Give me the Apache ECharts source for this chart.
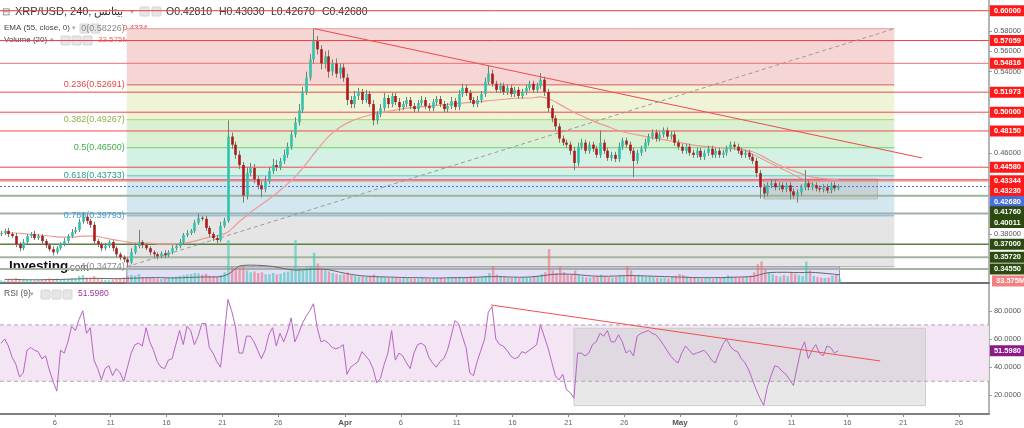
<!DOCTYPE html>
<html><head><meta charset="utf-8">
<script src="https://cdn.jsdelivr.net/npm/echarts@6/dist/echarts.min.js"></script>
<style>html,body{margin:0;padding:0;background:#fff}#c{width:1024px;height:428px}</style>
</head><body><div id="c"></div>
<script>
// ===================== DATA =====================
// 8-hour candles starting 1 Mar (time axis unit = days since 1 Mar)
const firstOpen = 0.380;
const closes = [
0.381,0.383,0.380, 0.378,0.370,0.366, 0.372,0.378,0.380, 0.376,0.378,0.373, 0.369,0.365,0.362,
0.366,0.370,0.373, 0.378,0.382,0.384, 0.392,0.397,0.393, 0.389,0.373,0.370, 0.366,0.368,0.372,
0.366,0.360,0.357, 0.355,0.352,0.362, 0.368,0.372,0.369, 0.366,0.362,0.360, 0.358,0.361,0.359,
0.362,0.366,0.368, 0.372,0.379,0.381, 0.383,0.391,0.396, 0.395,0.386,0.380, 0.376,0.374,0.388,
0.393,0.476,0.468, 0.458,0.448,0.418, 0.440,0.445,0.434, 0.428,0.424,0.432, 0.442,0.448,0.446,
0.452,0.458,0.466, 0.478,0.490,0.502, 0.520,0.534,0.552, 0.570,0.562,0.548, 0.555,0.540,0.548,
0.538,0.544,0.534, 0.512,0.508,0.516, 0.520,0.512,0.518, 0.508,0.492,0.498, 0.504,0.514,0.508,
0.516,0.510,0.505, 0.508,0.512,0.506, 0.503,0.509,0.512, 0.506,0.504,0.510, 0.513,0.508,0.503,
0.506,0.511,0.505, 0.518,0.524,0.519, 0.512,0.508,0.512, 0.518,0.530,0.538, 0.528,0.522,0.526,
0.520,0.524,0.518, 0.522,0.516,0.520, 0.524,0.528,0.522, 0.526,0.532,0.520, 0.504,0.494,0.486,
0.474,0.470,0.468, 0.462,0.450,0.466, 0.470,0.462,0.468, 0.464,0.458,0.470, 0.462,0.455,0.458,
0.454,0.466,0.472, 0.468,0.462,0.452, 0.460,0.464,0.470, 0.476,0.480,0.474, 0.478,0.482,0.476,
0.478,0.470,0.466, 0.462,0.466,0.460, 0.458,0.462,0.456, 0.460,0.464,0.458, 0.462,0.458,0.460,
0.464,0.468,0.466, 0.462,0.458,0.460, 0.456,0.452,0.440, 0.426,0.420,0.428, 0.430,0.426,0.428,
0.424,0.428,0.422, 0.418,0.421,0.426, 0.430,0.426,0.428, 0.425,0.424,0.426, 0.423,0.428,0.425,
0.4268];
// upper / lower wick lengths beyond the body, in thousandths of a dollar
const wickUp = [
2,2,3, 2,3,2, 3,2,2, 3,2,2, 2,2,3, 2,2,3, 2,3,3, 3,4,2, 2,3,2, 2,3,2,
2,2,2, 2,2,4, 3,12,2, 2,2,2, 2,2,3, 2,3,2, 3,2,3, 2,3,4, 2,3,2, 2,3,4,
3,16,4, 3,4,3, 6,5,4, 3,4,5, 4,6,5, 3,5,4, 4,5,6, 5,6,5, 12.3,5,4, 5,6,4,
5,4,4, 4,4,5, 4,3,4, 3,4,3, 4,5,3, 3,3,4, 3,3,3, 3,3,4, 3,3,3, 3,3,3,
3,4,3, 4,4,3, 3,3,4, 3,4,7.5, 4,3,3, 3,3,3, 3,3,3, 3,3,3, 3,6.6,3, 3,3,3,
3,3,3, 3,4,4, 4,3,3, 3,3,12, 3,3,3, 3,4,3, 3,3,3, 3,3,4, 3,3,3, 3,3,3,
3,3,3, 3,3,3, 3,3,3, 3,3,3, 3,3,3, 3,3,3, 3,3,3, 3,3,3, 3,3,3, 4,3,3,
3,3,3, 3,3,3, 13,3,3, 3,3,3, 3,3,3, 2];
const wickDn = [
2,2,3, 2,3,3, 2,2,2, 2,2,3, 3,2,3, 2,2,2, 2,2,2, 2,2,3, 3,3,3, 3,2,2,
3,3,3, 3,4.3,2, 2,2,3, 2,3,3, 3,2,3, 2,2,2, 2,2,2, 2,2,2, 2,3,3, 3,3,2,
2,2,4, 4,4,7, 4,3,4, 4,8,3, 3,3,4, 3,3,3, 3,3,3, 3,3,3, 4,5,6, 5,6,4,
4,5,4, 5,4,4, 4,4,3, 3,5,4, 3,3,4, 3,3,4, 3,3,3, 3,3,3, 3,3,3, 3,3,3,
3,3,3, 3,3,3, 3,3,3, 3,3,3, 3,3,3, 3,3,3, 3,3,3, 3,3,3, 3,3,4, 4,4,4,
4,3,3, 4,7,3, 3,3,3, 3,3,3, 3,3,3, 3,3,3, 3,3,16, 3,3,3, 3,3,3, 3,3,3,
3,3,3, 3,3,3, 3,3,3, 3,3,3, 3,3,3, 3,3,3, 3,3,3, 3,3,4, 11,4,3, 3,3,3,
3,3,8, 3,7,3, 3,3,3, 3,3,3, 3,3,3, 2];
// volume per candle (millions)
const volumes = [
15,12,18, 20,28,22, 18,16,14, 14,16,18, 22,26,20, 24,18,20, 22,26,24, 40,44,30, 30,38,26, 20,18,16,
20,24,26, 30,40,45, 42,50,34, 30,28,26, 24,22,26, 30,34,36, 40,44,48, 50,56,54, 46,52,40, 38,36,44,
60,240,90, 80,86,90, 70,60,64, 56,60,48, 50,56,48, 52,60,64, 70,240,80, 70,88,96, 170,110,80, 70,64,56,
50,46,48, 60,44,40, 36,38,34, 40,48,36, 34,30,28, 30,28,26, 26,28,24, 24,26,28, 24,22,26, 26,28,24,
28,32,30, 34,30,28, 36,38,32, 34,40,56, 95,48,40, 34,30,28, 30,26,28, 30,32,36, 40,50,60, 190,70,56,
90,60,50, 48,70,44, 36,32,30, 34,40,46, 36,32,30, 34,40,38, 95,70,40, 46,40,36, 38,34,30, 28,30,26,
34,40,50, 44,36,30, 28,26,24, 26,28,24, 26,30,28, 44,36,30, 30,32,34, 40,60,105, 120,80,60, 50,40,36,
44,38,60, 50,44,40, 120,70,40, 34,30,28, 30,40,46, 25];
// RSI(9) per candle
const rsiVals = [
57,60,55, 47,42,33, 36,52,54, 52,51,46, 48,38,30, 23,52,50, 58,69,66, 74,80,64, 68,45,39, 31,39,41,
34,39,36, 30,40,50, 56,57,55, 68,58,52, 44,40,39, 45,46,56, 66,56,69, 66,56,62, 71,71,54, 50,44,40,
62,88,80, 69,50,50, 62,62,58, 52,46,52, 63,68,55, 64,58,65, 75,58,64, 71,76,80, 85,68,58, 59,57,54,
53,54,56, 35,40,42, 44,51,48, 45,39,29, 32,42,50, 66,45,50, 48,43,39, 50,56,57, 55,47,43, 40,44,46,
52,62,73, 71,62,54, 36,34,44, 52,60,79, 83,60,56, 55,52,48, 46,47,51, 50,52,54, 56,70,62, 54,44,34,
31,35,24, 22,18,50, 50,48,50, 56,58,64, 62,66,58, 58,63,58, 50,52,48, 62,64,65, 66,64,63, 60,56,52,
48,45,43, 50,55,52, 49,50,51, 52,49,45, 43,50,56, 60,55,52, 51,46,43, 38,31,24, 18,13,26, 34,41,40,
37,35,31, 27,40,52, 58,46,52, 56,50,48, 55,54,50, 51.598];
// EMA(55) per day (value at mid-day)
const emaVals = [
0.381,0.381,0.380,0.379,0.378,0.377,0.377,0.378,0.378,0.376,0.374,0.372,0.371,0.371,0.370,0.370,
0.371,0.373,0.376,0.378,0.382,0.392,0.401,0.409,0.417,0.426,0.436,0.449,0.463,0.476,0.485,0.491,
0.495,0.498,0.500,0.502,0.504,0.505,0.506,0.507,0.508,0.509,0.510,0.511,0.512,0.513,0.514,0.514,
0.515,0.512,0.506,0.500,0.495,0.490,0.486,0.482,0.479,0.477,0.475,0.473,0.471,0.469,0.467,0.466,
0.465,0.464,0.463,0.461,0.456,0.450,0.445,0.441,0.437,0.435,0.434,0.4334];
// Volume MA(20) per day (millions)
const volMa = [
20,20,18,18,19,20,22,24,26,25,24,26,28,30,30,28,30,32,34,34,
50,95,100,98,92,80,72,75,78,74,60,48,40,36,34,32,30,30,28,28,
30,30,32,35,36,34,32,34,40,48,50,48,42,38,38,40,42,40,38,36,
34,32,30,30,30,32,34,38,55,60,60,58,60,56,50,46];
// Fibonacci retracement
const fibRatios = [0, 0.236, 0.382, 0.5, 0.618, 0.786, 1];
const fibPrices = [0.58226, 0.52691, 0.49267, 0.46500, 0.43733, 0.39793, 0.34774];
const fibSpan = [11.44, 80.2];           // days
// horizontal price lines
const hLines = [0.60000,0.57059,0.54816,0.51973,0.50000,0.48150,0.44580,0.43344,0.43230,0.42680,0.41760,0.40011,0.37000,0.35720,0.34550];
// trend lines [day1, v1, day2, v2]
const priceTrends = [[28.25,0.58226,82.7,0.4549],[66.2,0.4657,74.5,0.4204],[11.44,0.34774,80.2,0.58226]];
const rsiTrends = [[44.08,84.1,78.94,44.4]];
// rectangles [day1, day2, v1, v2]
const priceRects = [[68.5,78.7,0.4342,0.4145]];
const volumeZone = [[11.44,75.3,0.34774,0.33172]];
const rsiRects = [[51.5,83.0,67.5,12.7]];
const rsiBand = [30, 70];
const rsiLast = 51.598, volLast = 33.575;
// axes ticks
const priceTicks = [0.58,0.56,0.54,0.46,0.38];
const rsiTicks = [20,40,60,80];
const dateTickDays = [5,10,15,20,25,31,36,41,46,51,56,61,66,71,76,81,86];
const dateTickLabels = ['6','11','16','21','26','Apr','6','11','16','21','26','May','6','11','16','21','26'];

// ===================== STYLE =====================
const X_MIN = 0.08, X_MAX = 88.68;
const P_MIN = 0.33172, P_MAX = 0.61054;
const R_MIN = 6.8, R_MAX = 99.7;
const V_MAX = 464.8;
const FONT = 'Arial, "Liberation Sans", sans-serif';
const fibBandColors = ['#f6d5d5','#eff4d9','#d9f1d2','#d4f1e5','#d3e7f1','#e5e5e5'];
const fibLineColors = ['#e3a0a0','#e05a5a','#b8d06e','#6fcf6f','#62c8b2','#70b1dc','#a8a8a8'];
const fibTextColors = ['#888888','#e04848','#8db040','#43ad4a','#1f9f86','#3d9ad6','#888888'];
const hLineStyles = [
 {stroke:'#f23c3c',lineWidth:1},{stroke:'#f23c3c',lineWidth:1},{stroke:'#f07070',lineWidth:1},
 {stroke:'#f04848',lineWidth:1},{stroke:'#f04848',lineWidth:1},{stroke:'#f04848',lineWidth:1},
 {stroke:'#f04848',lineWidth:1},{stroke:'#f04848',lineWidth:1},{stroke:'#f06a6a',lineWidth:1},
 {stroke:'#4d6fdc',lineWidth:1,lineDash:[2,2]},
 {stroke:'#9db39a',lineWidth:2},{stroke:'#9fb0a8',lineWidth:2},{stroke:'#5e7d45',lineWidth:1.5},
 {stroke:'#a3b5a0',lineWidth:2},{stroke:'#a3b5a0',lineWidth:2}];
const hLabelBg = ['#ff1a1a','#ff1a1a','#ff1a1a','#ff1a1a','#ff1a1a','#ff1a1a','#ff1a1a','#ff1a1a','#ff1a1a',
 '#4a6fdc','#2a4a10','#2a4a10','#2a4a10','#2a4a10','#2a4a10'];
const hLabelShift = [0,0,0,0,0,0,0,1,10,15,16,9,0,0,0];
const priceTrendStyles = [{stroke:'#f04a4a',lineWidth:1},{stroke:'#f08a8a',lineWidth:1},{stroke:'#9a9a9a',lineWidth:1,lineDash:[4,3]}];

// ===================== BUILD =====================
const candleT = i => i/3 + 1/6;
const candleData = closes.map((c,i)=>{
  const o = i ? closes[i-1] : firstOpen;
  return [candleT(i), o, c, Math.min(o,c)-wickDn[i]/1000, Math.max(o,c)+wickUp[i]/1000];
});
const lastT = candleT(closes.length-1);
const volData = volumes.map((v,i)=>[candleT(i), v, candleData[i][2]>=candleData[i][1]?1:0]);
const rsiData = rsiVals.map((v,i)=>[candleT(i), v]);
const emaData = emaVals.map((v,d)=>[Math.min(d+0.5,lastT), v]);
const volMaData = volMa.map((v,d)=>[Math.min(d+0.5,lastT), v]);

const chart = echarts.init(document.getElementById('c'), null, {renderer:'canvas'});

function lineItem(a,b,style){return {type:'line',shape:{x1:a[0],y1:a[1],x2:b[0],y2:b[1]},style:Object.assign({fill:null},style)};}
function segRenderer(styles){return (params,api)=>lineItem(api.coord([api.value(0),api.value(1)]),api.coord([api.value(2),api.value(3)]),styles[params.dataIndex]);}
function rectRenderer(style){return (params,api)=>{const a=api.coord([api.value(0),api.value(2)]),b=api.coord([api.value(1),api.value(3)]);
  return {type:'rect',shape:{x:Math.min(a[0],b[0]),y:Math.min(a[1],b[1]),width:Math.abs(b[0]-a[0]),height:Math.abs(b[1]-a[1])},style:style};};}
function boxLabel(x,y,text,bg){return {type:'text',x:x,y:y,style:{text:text,fill:'#fff',backgroundColor:bg,padding:[2,4,1,4],fontSize:7.5,fontWeight:'bold',fontFamily:FONT,verticalAlign:'middle',align:'left'}};}

const series = [
 {type:'custom',xAxisIndex:0,yAxisIndex:0,z:1,silent:true,data:fibPrices.slice(0,-1).map((p,i)=>[fibSpan[0],fibSpan[1],p,fibPrices[i+1]]),
  renderItem:(params,api)=>rectRenderer({fill:fibBandColors[params.dataIndex]})(params,api)},
 {type:'custom',xAxisIndex:0,yAxisIndex:0,z:1,silent:true,data:priceRects,renderItem:rectRenderer({fill:'rgba(185,185,185,0.45)',stroke:'#b8b8b8',lineWidth:1})},
 {type:'custom',xAxisIndex:0,yAxisIndex:0,z:1,silent:true,data:volumeZone,renderItem:rectRenderer({fill:'rgba(190,185,245,0.45)',stroke:'#8c8cb8',lineWidth:1})},
 {type:'custom',xAxisIndex:0,yAxisIndex:0,z:2,silent:true,data:hLines.map(p=>[X_MIN,p,X_MAX,p]),renderItem:segRenderer(hLineStyles)},
 {type:'custom',xAxisIndex:0,yAxisIndex:0,z:2,silent:true,data:fibPrices.map(p=>[fibSpan[0],p,fibSpan[1],p]),
  renderItem:(params,api)=>{const i=params.dataIndex;const a=api.coord([api.value(0),api.value(1)]),b=api.coord([api.value(2),api.value(3)]);
   return {type:'group',children:[lineItem(a,b,{stroke:fibLineColors[i],lineWidth:1}),
    {type:'text',x:a[0]-2,y:a[1],style:{text:fibRatios[i]+'('+fibPrices[i].toFixed(5)+')',fill:fibTextColors[i],fontSize:9,fontFamily:FONT,align:'right',verticalAlign:'middle'}}]};}},
 {type:'custom',xAxisIndex:1,yAxisIndex:1,z:3,silent:true,data:volData,
  renderItem:(params,api)=>{const t=api.value(0),v=api.value(1),up=api.value(2);const a=api.coord([t,0]),b=api.coord([t,v]);const w=api.size([1/3,0])[0]*0.65;
   return {type:'rect',shape:{x:a[0]-w/2,y:b[1],width:w,height:a[1]-b[1]},style:{fill:up?'rgba(60,200,175,0.6)':'rgba(240,110,125,0.6)'}};}},
 {type:'line',xAxisIndex:1,yAxisIndex:1,z:3,data:volMaData,showSymbol:false,symbol:'none',smooth:0.3,lineStyle:{color:'#666',width:1},silent:true},
 {type:'custom',xAxisIndex:0,yAxisIndex:0,z:3,silent:true,data:priceTrends,renderItem:segRenderer(priceTrendStyles)},
 {type:'line',xAxisIndex:0,yAxisIndex:0,z:3,data:emaData,showSymbol:false,symbol:'none',smooth:0.3,lineStyle:{color:'#ee9a94',width:1.2},silent:true},
 {type:'custom',xAxisIndex:0,yAxisIndex:0,z:4,silent:true,data:candleData,
  renderItem:(params,api)=>{const t=api.value(0),o=api.value(1),c=api.value(2),l=api.value(3),h=api.value(4);
   const po=api.coord([t,o]),pc=api.coord([t,c]),pl=api.coord([t,l]),ph=api.coord([t,h]);
   const w=Math.max(1.6,api.size([1/3,0])[0]*0.7);const up=c>=o;const x=Math.round(po[0])+0.5;
   const top=Math.min(po[1],pc[1]),bh=Math.max(1,Math.abs(po[1]-pc[1]));
   return {type:'group',children:[lineItem([x,ph[1]],[x,pl[1]],{stroke:'#74806f',lineWidth:1}),
    {type:'rect',shape:{x:x-w/2,y:top,width:w,height:bh},style:{fill:up?'#2fc3ae':'#ad1a1a'}}]};}},
 {type:'custom',xAxisIndex:0,yAxisIndex:0,z:6,silent:true,clip:false,data:hLines.map(p=>[X_MAX,p]),
  renderItem:(params,api)=>{const i=params.dataIndex;const a=api.coord([api.value(0),api.value(1)]);
   return boxLabel(a[0]+1,a[1]+hLabelShift[i],api.value(1).toFixed(5),hLabelBg[i]);}},
 {type:'custom',xAxisIndex:1,yAxisIndex:1,z:6,silent:true,clip:false,data:[[X_MAX,volLast]],
  renderItem:(params,api)=>{const a=api.coord([api.value(0),api.value(1)]);return boxLabel(a[0]+1,a[1]+4,api.value(1).toFixed(3)+'M','#f58080');}},
 {type:'custom',xAxisIndex:2,yAxisIndex:2,z:1,silent:true,data:[[X_MIN,X_MAX,rsiBand[0],rsiBand[1]]],renderItem:rectRenderer({fill:'#f3e5f3'})},
 {type:'custom',xAxisIndex:2,yAxisIndex:2,z:2,silent:true,data:rsiRects,renderItem:rectRenderer({fill:'rgba(200,200,200,0.42)',stroke:'#cfcfcf',lineWidth:1})},
 {type:'custom',xAxisIndex:2,yAxisIndex:2,z:2,silent:true,data:rsiBand.map(v=>[X_MIN,v,X_MAX,v]),
  renderItem:segRenderer([{stroke:'#b0a6b0',lineWidth:1,lineDash:[4,3]},{stroke:'#b0a6b0',lineWidth:1,lineDash:[4,3]}])},
 {type:'line',xAxisIndex:2,yAxisIndex:2,z:3,data:rsiData,showSymbol:false,symbol:'none',lineStyle:{color:'#b565c5',width:1},silent:true},
 {type:'custom',xAxisIndex:2,yAxisIndex:2,z:4,silent:true,data:rsiTrends,renderItem:segRenderer([{stroke:'#f05050',lineWidth:1}])},
 {type:'custom',xAxisIndex:2,yAxisIndex:2,z:6,silent:true,clip:false,data:[[X_MAX,rsiLast]],
  renderItem:(params,api)=>{const a=api.coord([api.value(0),api.value(1)]);return boxLabel(a[0]+1,a[1],api.value(1).toFixed(4),'#8b1a8b');}}
];

const hiddenX = {type:'value',min:X_MIN,max:X_MAX,axisLine:{show:false},axisTick:{show:false},axisLabel:{show:false},splitLine:{show:false}};
const icon = (x,y)=>({type:'rect',x:x,y:y,shape:{width:9,height:9,r:1},style:{fill:'#e6e6e6',stroke:'#d4d4d4'}});
const txt = (x,y,text,fill,size,weight)=>({type:'text',x:x,y:y,style:{text:text,fill:fill,fontSize:size,fontWeight:weight||'normal',fontFamily:FONT,verticalAlign:'middle'}});

const option = {
  animation:false,
  backgroundColor:'#ffffff',
  grid:[{left:0,top:0,width:991,height:283},{left:0,top:200,width:991,height:83},{left:0,top:283,width:991,height:131}],
  xAxis:[
    Object.assign({},hiddenX,{gridIndex:0,axisLine:{show:true,lineStyle:{color:'#707070',width:2}}}),
    Object.assign({},hiddenX,{gridIndex:1}),
    {gridIndex:2,type:'value',min:X_MIN,max:X_MAX,splitLine:{show:false},
     axisLine:{show:true,lineStyle:{color:'#808080',width:2}},
     axisTick:{show:true,customValues:dateTickDays,length:3,lineStyle:{color:'#888'}},
     axisLabel:{customValues:dateTickDays,margin:5,fontSize:7.5,color:'#666',fontFamily:FONT,
       formatter:v=>{const i=dateTickDays.indexOf(Math.round(v));const s=i>=0?dateTickLabels[i]:'';return /[A-Za-z]/.test(s)?'{b|'+s+'}':s;},
       rich:{b:{fontWeight:'bold',fontSize:8,color:'#555',fontFamily:FONT}}}}
  ],
  yAxis:[
    {gridIndex:0,type:'value',position:'right',min:P_MIN,max:P_MAX,splitLine:{show:false},
     axisLine:{show:true,lineStyle:{color:'#b4b4b4',width:2}},
     axisTick:{show:true,customValues:priceTicks,length:3,lineStyle:{color:'#999'}},
     axisLabel:{customValues:priceTicks,margin:5,fontSize:7.5,color:'#555',fontFamily:FONT,formatter:v=>v.toFixed(5)}},
    {gridIndex:1,type:'value',min:0,max:V_MAX,show:false},
    {gridIndex:2,type:'value',position:'right',min:R_MIN,max:R_MAX,splitLine:{show:false},
     axisLine:{show:true,lineStyle:{color:'#b4b4b4',width:2}},
     axisTick:{show:true,customValues:rsiTicks,length:3,lineStyle:{color:'#999'}},
     axisLabel:{customValues:rsiTicks,margin:5,fontSize:7.5,color:'#555',fontFamily:FONT,formatter:v=>v.toFixed(4)}}
  ],
  series:series,
  graphic:[
    txt(2,12,'⊟','#777',10),
    txt(15,12,'XRP/USD, 240, بيتانس','#333',11),
    txt(130,12,'▾','#aaa',8),
    icon(140,7),icon(152,7),
    txt(166,12,'O0.42810','#333',10.5),txt(219,12,'H0.43030','#333',10.5),
    txt(271,12,'L0.42670','#333',10.5),txt(322,12,'C0.42680','#333',10.5),
    txt(4,28,'EMA (55, close, 0)','#444',8),txt(72,28,'▾','#aaa',7),
    icon(80,24),icon(91,24),
    txt(123,28,'0.4334','#f03c3c',8),
    txt(4,40,'Volume (20)','#444',8),txt(50,40,'▾','#aaa',7),
    icon(61,36),icon(72,36),icon(83,36),
    txt(98,40,'33.575M','#f06a6a',8),txt(135,40,'14.194M','#222',8),
    txt(9,266,'Investing','#111',13.5,'bold'),txt(67,268,'.com','#666',10),
    txt(4,294,'RSI (9)','#555',8.5),txt(30,294,'▾','#aaa',7),
    icon(41,290),icon(52,290),icon(63,290),
    txt(78,294,'51.5980','#a030a0',8.5)
  ]
};
chart.setOption(option);
</script>
</body></html>
